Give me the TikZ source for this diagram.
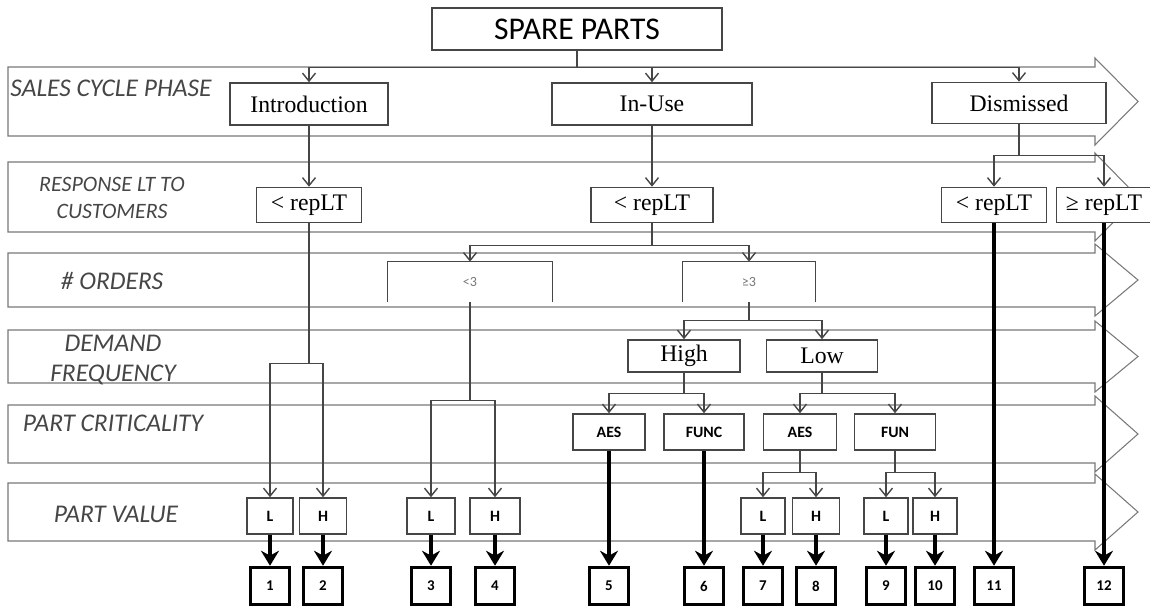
\documentclass[tikz,border=0pt]{standalone}
\usepackage{fontspec}
\setmainfont{Liberation Serif}
\newfontfamily\carlito{Carlito}
\usetikzlibrary{arrows.meta, calc}
\definecolor{Black70}{RGB}{70, 70, 70}
\definecolor{Black50}{RGB}{120, 120, 120}
\tikzstyle{phase} = [rectangle, draw=Black70, fill=white, line width=0.9pt, minimum height=0.84cm, inner sep=0pt, font=\fontsize{13.5}{15}\selectfont]
\tikzstyle{valbox} = [rectangle, draw=Black70, fill=white, line width=0.9pt, minimum height=0.72cm, inner sep=0pt, font=\carlito\bfseries\fontsize{9}{10}\selectfont]
\tikzstyle{orders} = [rectangle, minimum height=0.8cm, inner sep=0pt, text=Black50, font=\carlito\fontsize{8}{9}\selectfont]
\tikzstyle{result} = [rectangle, draw=black, fill=white, line width=2pt, minimum width=0.78cm, minimum height=0.74cm, font=\carlito\bfseries\fontsize{8.5}{9}\selectfont]
\tikzstyle{band} = [draw=Black50, line width=0.6pt]
\tikzstyle{lbl} = [font=\carlito\itshape\fontsize{14.5}{17}\selectfont, text=Black70, align=center]
\tikzstyle{link} = [line width=0.8pt, Black70]
\tikzstyle{arrow} = [-{Straight Barb[length=1.6mm, width=2.6mm]}, line width=0.8pt, Black70]
\tikzstyle{bigarrow} = [-{Stealth[length=3mm, width=3.6mm]}, line width=1.8pt, black]

\begin{document}
\begin{tikzpicture}[x=0.02cm, y=-0.02cm]
\useasboundingbox (0,0) rectangle (1150,609);

% Phase bands (block arrows)
\foreach \t/\b in {67/136, 162/232, 253/307, 330/383, 405/463, 483/541}
    \draw[band] (8,\t) -- (1095,\t) -- (1095,{\t-9}) -- (1138,{(\t+\b)/2})
        -- (1095,{\b+9}) -- (1095,\b) -- (8,\b) -- cycle;

% Band labels
\node (lsales) [lbl] at (111,88) {SALES CYCLE PHASE};
\node (lresp) [lbl, font=\carlito\itshape\fontsize{12.5}{15}\selectfont] at (112,198) {RESPONSE LT TO\\CUSTOMERS};
\node (lorders) [lbl] at (112,281) {\# ORDERS};
\node (ldemand) [lbl] at (113,360) {DEMAND\\FREQUENCY};
\node (lcrit) [lbl] at (113,423) {PART CRITICALITY};
\node (lvalue) [lbl] at (116,514) {PART VALUE};

% Root
\node (spare) [phase, minimum width=5.8cm, font=\carlito\fontsize{18}{20}\selectfont] at (577,29) {SPARE PARTS};

% Sales cycle phase
\node (intro) [phase, minimum width=3.16cm] at (309,104) {Introduction};
\node (inuse) [phase, minimum width=4cm] at (652,104) {In-Use};
\node (dism) [phase, minimum width=3.48cm, minimum height=0.82cm] at (1019,103) {Dismissed};

% Response LT to customers
\node (rLTa) [phase, minimum width=2.1cm, minimum height=0.7cm] at (309,205) {< repLT};
\node (rLTb) [phase, minimum width=2.44cm, minimum height=0.7cm] at (652,205) {< repLT};
\node (rLTc) [phase, minimum width=2.1cm, minimum height=0.7cm] at (994,205) {< repLT};
\node (rLTd) [phase, minimum width=1.9cm, minimum height=0.7cm] at (1104,205) {≥ repLT};

% Number of orders
\node (ord1) [orders, minimum width=3.28cm] at (470,282) {<3};
\node (ord2) [orders, minimum width=2.64cm] at (749,282) {≥3};
\draw[link] (ord1.south west) -- (ord1.north west) -- (ord1.north east) -- (ord1.south east);
\draw[link] (ord2.south west) -- (ord2.north west) -- (ord2.north east) -- (ord2.south east);

% Demand frequency
\node (high) [phase, minimum width=2.24cm, minimum height=0.64cm] at (684,356) {High};
\node (low) [phase, minimum width=2.22cm, minimum height=0.64cm] at (822,356) {Low};

% Part criticality
\node (aes1) [valbox, minimum width=1.44cm] at (609,432) {AES};
\node (func) [valbox, minimum width=1.6cm] at (704,432) {FUNC};
\node (aes2) [valbox, minimum width=1.46cm] at (800,432) {AES};
\node (fun) [valbox, minimum width=1.62cm] at (895,432) {FUN};

% Part value
\node (l1) [valbox, minimum width=0.92cm] at (270,516) {L};
\node (h1) [valbox, minimum width=0.94cm] at (323,516) {H};
\node (l2) [valbox, minimum width=0.96cm] at (431,516) {L};
\node (h2) [valbox, minimum width=1cm] at (495,516) {H};
\node (l3) [valbox, minimum width=0.88cm] at (763,516) {L};
\node (h3) [valbox, minimum width=0.94cm] at (816,516) {H};
\node (l4) [valbox, minimum width=0.88cm] at (886,516) {L};
\node (h4) [valbox, minimum width=0.88cm] at (935,516) {H};

% Classes
\foreach \n/\x in {1/270, 2/323, 3/431, 4/495, 5/609, 6/704, 7/763, 8/816, 9/886, 10/935, 11/994, 12/1104}
    \node (r\n) [result] at (\x,586) {\n};

% Tree connectors
\draw[arrow] (spare.south) -- ++(0,17) -| (intro.north);
\draw[arrow] (spare.south) -- ++(0,17) -| (inuse.north);
\draw[arrow] (spare.south) -- ++(0,17) -| (dism.north);
\draw[arrow] (intro.south) -- (rLTa.north);
\draw[arrow] (inuse.south) -- (rLTb.north);
\draw[arrow] (dism.south) -- ++(0,31) -| (rLTc.north);
\draw[arrow] (dism.south) -- ++(0,31) -| (rLTd.north);
\draw[arrow] (rLTb.south) -- ++(0,22) -| (ord1.north);
\draw[arrow] (rLTb.south) -- ++(0,22) -| (ord2.north);
\draw[arrow] (ord2.south) -- ++(0,18) -| (high.north);
\draw[arrow] (ord2.south) -- ++(0,18) -| (low.north);
\draw[arrow] (high.south) -- ++(0,21) -| (aes1.north);
\draw[arrow] (high.south) -- ++(0,21) -| (func.north);
\draw[arrow] (low.south) -- ++(0,21) -| (aes2.north);
\draw[arrow] (low.south) -- ++(0,21) -| (fun.north);
\draw[arrow] (rLTa.south) -- ++(0,140) -| (l1.north);
\draw[arrow] (rLTa.south) -- ++(0,140) -| (h1.north);
\draw[arrow] (ord1.south) -- ++(0,98) -| (l2.north);
\draw[arrow] (ord1.south) -- ++(0,98) -| (h2.north);
\draw[arrow] (aes2.south) -- ++(0,22) -| (l3.north);
\draw[arrow] (aes2.south) -- ++(0,22) -| (h3.north);
\draw[arrow] (fun.south) -- ++(0,22) -| (l4.north);
\draw[arrow] (fun.south) -- ++(0,22) -| (h4.north);

% Arrows into the classes
\foreach \a/\b in {l1/r1, h1/r2, l2/r3, h2/r4, aes1/r5, func/r6, l3/r7, h3/r8, l4/r9, h4/r10, rLTc/r11, rLTd/r12}
    \draw[bigarrow] (\a.south) -- (\b.north);

\end{tikzpicture}
\end{document}
